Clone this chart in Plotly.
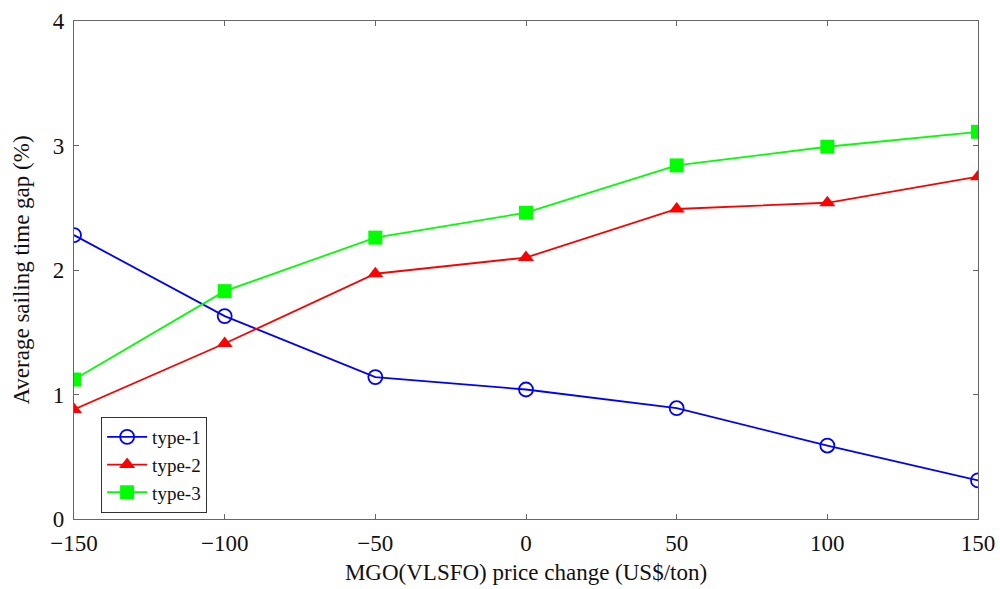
import plotly.graph_objects as go

x_vals = [-150, -100, -50, 0, 50, 100, 150]
type1 = [2.28, 1.63, 1.14, 1.04, 0.89, 0.59, 0.31]
type2 = [0.88, 1.41, 1.97, 2.10, 2.49, 2.54, 2.75]
type3 = [1.12, 1.83, 2.26, 2.46, 2.84, 2.99, 3.11]
series_names = ["type-1", "type-2", "type-3"]
x_ticks = [-150, -100, -50, 0, 50, 100, 150]
y_ticks = [0, 1, 2, 3, 4]

FONT = "Liberation Serif"

fig = go.Figure()
fig.add_trace(go.Scatter(
    x=x_vals, y=type1, name=series_names[0], mode="lines+markers",
    line=dict(color="#0000ff", width=1.8),
    marker=dict(symbol="circle-open", size=14, color="#0000ff", line=dict(width=1.8)),
))
fig.add_trace(go.Scatter(
    x=x_vals, y=type2, name=series_names[1], mode="lines+markers",
    line=dict(color="#ff0000", width=1.8),
    marker=dict(symbol="triangle-up", size=14, color="#ff0000"),
))
fig.add_trace(go.Scatter(
    x=x_vals, y=type3, name=series_names[2], mode="lines+markers",
    line=dict(color="#00ff00", width=1.8),
    marker=dict(symbol="square", size=14, color="#00ff00"),
))

axis_common = dict(
    showline=True, linecolor="#666666", linewidth=1.2, mirror="allticks",
    ticks="inside", ticklen=5, tickcolor="#666666", tickwidth=1,
    showgrid=False, zeroline=False, automargin=False,
    tickfont=dict(family=FONT, size=23, color="#111111"),
)

fig.update_layout(
    width=1000, height=589,
    margin=dict(l=74, r=22, t=21, b=70),
    paper_bgcolor="white", plot_bgcolor="white",
    font=dict(family=FONT, color="#111111"),
    xaxis=dict(
        range=[-150, 150], tickvals=x_ticks,
        title=dict(text="MGO(VLSFO) price change (US$/ton)", font=dict(family=FONT, size=23), standoff=9),
        ticklabelstandoff=3,
        **axis_common,
    ),
    yaxis=dict(
        range=[0, 4], tickvals=y_ticks,
        title=dict(text="Average sailing time gap (%)", font=dict(family=FONT, size=23), standoff=16),
        ticklabelstandoff=4,
        **axis_common,
    ),
    legend=dict(
        x=0.03, y=0.012, xanchor="left", yanchor="bottom",
        bgcolor="white", bordercolor="#333333", borderwidth=1,
        font=dict(family=FONT, size=19),
        itemwidth=40, tracegroupgap=0,
    ),
    showlegend=True,
)

fig.write_html("out.html")
